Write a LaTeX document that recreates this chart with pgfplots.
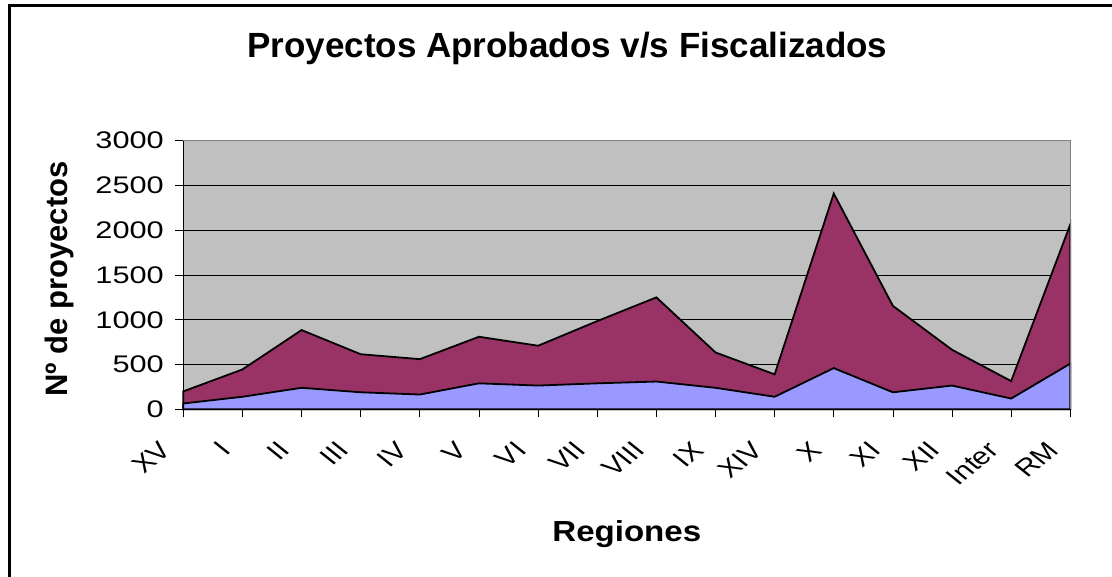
\documentclass[border=0pt]{standalone}
\usepackage{fontspec}
\setmainfont{Liberation Sans}
\usepackage{graphicx}
\usepackage{pgfplots}
\pgfplotsset{compat=1.18}
\definecolor{bgray}{HTML}{C0C0C0}
\definecolor{aprob}{HTML}{993366}
\definecolor{fisc}{HTML}{9999FF}
\newcommand{\xl}[1]{\scalebox{1.25}[1]{\rotatebox{45}{#1}}}
\begin{document}
\begin{tikzpicture}
\useasboundingbox (-183.3pt,-167.7pt) rectangle (928.7pt,409.3pt);
\draw[line width=2.7pt] (-174pt,-300pt) -- (-174pt,403.5pt) -- (1100pt,403.5pt);
\begin{axis}[
  at={(0pt,0pt)}, anchor=south west,
  scale only axis, width=887pt, height=268.6pt,
  xmin=0, xmax=15, ymin=0, ymax=3000,
  axis background/.style={fill=bgray},
  axis lines*=left,
  axis line style={black, line width=1.4pt},
  tick style={black, line width=0.8pt},
  tick align=outside,
  major tick length=8pt,
  xtick={0,...,15},
  xticklabels={\xl{XV},\xl{I},\xl{II},\xl{III},\xl{IV},\xl{V},\xl{VI},\xl{VII},\xl{VIII},\xl{IX},\xl{XIV},\xl{X},\xl{XI},\xl{XII},\xl{Inter},\xl{RM}},
  ytick={0,500,...,3000},
  yticklabel={\scalebox{1.28}[1]{\pgfmathprintnumber{\tick}}},
  ymajorgrids, grid style={black, line width=0.8pt},
  /pgf/number format/assume math mode=true,
  /pgf/number format/set thousands separator={},
  ticklabel style={font=\fontsize{24}{28}\selectfont},
  yticklabel style={xshift=-8pt},
  xticklabel style={anchor=north east, inner sep=0pt, xshift=-10pt, yshift=-23pt},
  title={Proyectos Aprobados v/s Fiscalizados},
  title style={font=\bfseries\fontsize{35}{40}\selectfont, at={(axis description cs:0.433,1.2856)}, anchor=base},
  xlabel={\scalebox{1.14}[1]{Regiones}},
  xlabel style={font=\bfseries\fontsize{29}{34}\selectfont, at={(axis description cs:0.5,-0.493)}, anchor=base},
  ylabel={Nº de proyectos},
  ylabel style={font=\bfseries\fontsize{31}{35}\selectfont, at={(axis description cs:-0.130,0.485)}, anchor=base, rotate=0},
  clip=false,
]
\addplot[fill=aprob, draw=black, line width=1.8pt] coordinates {
 (0,200) (1,445) (2,885) (3,615) (4,560) (5,810) (6,710) (7,985)
 (8,1250) (9,635) (10,390) (11,2410) (12,1155) (13,665) (14,315) (15,2065)
} \closedcycle;
\addplot[fill=fisc, draw=black, line width=1.8pt] coordinates {
 (0,65) (1,140) (2,240) (3,190) (4,165) (5,290) (6,265) (7,290)
 (8,310) (9,240) (10,140) (11,460) (12,190) (13,265) (14,120) (15,510)
} \closedcycle;
\draw[gray, line width=1pt] (rel axis cs:0,1) -- (rel axis cs:1,1) -- (rel axis cs:1,0);
\end{axis}
\end{tikzpicture}
\end{document}
